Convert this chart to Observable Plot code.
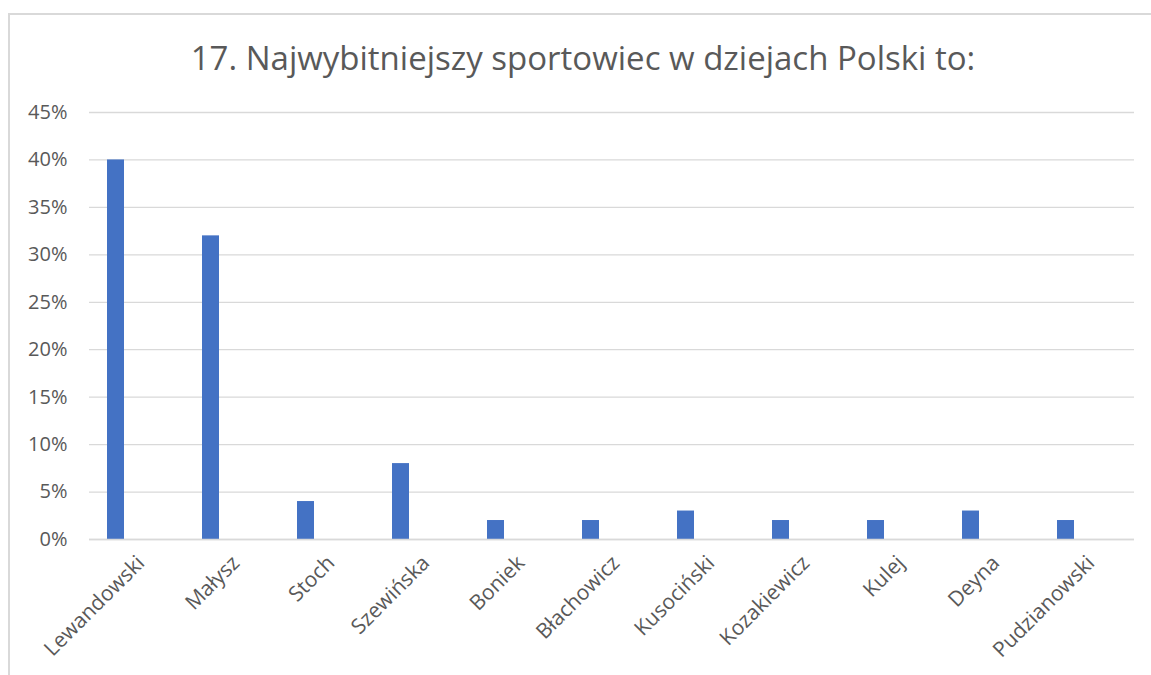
<!DOCTYPE html>
<html>
<head>
<meta charset="utf-8">
<script src="https://cdn.jsdelivr.net/npm/d3@7"></script>
<script src="https://cdn.jsdelivr.net/npm/@observablehq/plot@0.6"></script>
<style>
  html, body { margin: 0; padding: 0; background: #fff; }
  #wrap { position: relative; width: 1151px; height: 675px; overflow: hidden; }
  #frame { position: absolute; left: 8px; top: 13px; width: 1160px; height: 700px;
           border-left: 2px solid #d9d9d9; border-top: 2px solid #d9d9d9; box-sizing: border-box; }
  #title { position: absolute; top: 35px; left: 0; width: 1166px; text-align: center;
           font-family: "Open Sans", sans-serif; font-size: 33px; color: #595959; }
  #chart { position: absolute; left: 0; top: 0; }
</style>
</head>
<body>
<div id="wrap">
  <div id="frame"></div>
  <div id="title">17. Najwybitniejszy sportowiec w dziejach Polski to:</div>
  <div id="chart"></div>
</div>
<script>
const categories = ["Lewandowski", "Małysz", "Stoch", "Szewińska", "Boniek", "Błachowicz", "Kusociński", "Kozakiewicz", "Kulej", "Deyna", "Pudzianowski"];
const values = [0.40, 0.32, 0.04, 0.08, 0.02, 0.02, 0.03, 0.02, 0.02, 0.03, 0.02];
const yTicks = [0, 0.05, 0.10, 0.15, 0.20, 0.25, 0.30, 0.35, 0.40, 0.45];

const data = categories.map((c, i) => ({ name: c, value: values[i] }));

const chart = Plot.plot({
  width: 1151,
  height: 675,
  marginLeft: 89,
  marginRight: 17,
  marginTop: 112,
  marginBottom: 136,
  style: { fontFamily: "Open Sans, sans-serif", fontSize: "19px", color: "#595959", background: "transparent" },
  x: { domain: categories, padding: 0, label: null },
  y: { domain: [0, 0.45], label: null },
  marks: [
    Plot.gridY(yTicks, { stroke: "#d9d9d9", strokeOpacity: 1, strokeWidth: 1.3 }),
    Plot.barY(data, { x: "name", y: "value", fill: "#4472C4", insetLeft: 39, insetRight: 39, dx: -21 }),
    Plot.axisY(yTicks, { tickSize: 0, tickPadding: 22, tickFormat: d => Math.round(d * 100) + "%", fontSize: 20, fill: "#595959" }),
    Plot.axisX({ tickSize: 0, tickPadding: 20, tickRotate: -45, fontSize: 21, fill: "#595959", dx: 4 }),
    Plot.ruleY([0], { stroke: "#d9d9d9", strokeWidth: 1.3 })
  ]
});
document.getElementById("chart").appendChild(chart);
</script>
</body>
</html>
